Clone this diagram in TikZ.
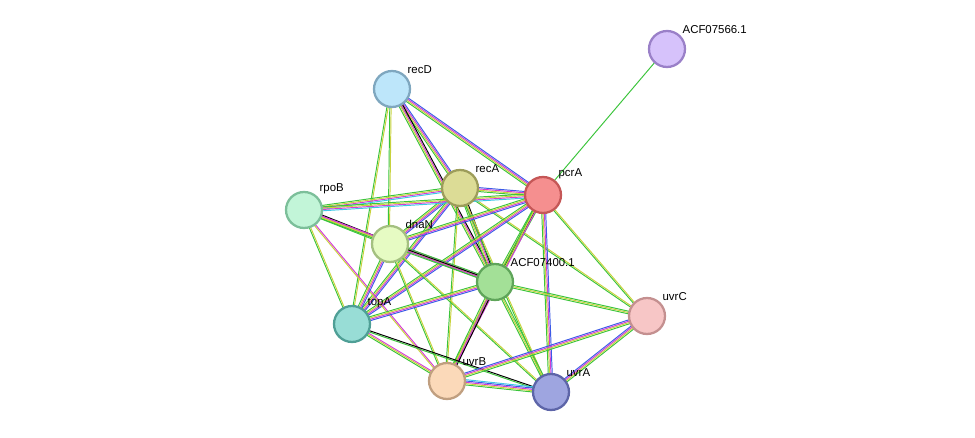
\documentclass[tikz,border=0pt]{standalone}
\usepackage{fontspec}
\setmainfont{Liberation Sans}
\usetikzlibrary{calc}
\definecolor{tmgreen}{HTML}{3BC43B}
\definecolor{coyellow}{HTML}{C8D23C}
\definecolor{expmag}{HTML}{D43CD4}
\definecolor{dbblue}{HTML}{3C5AE6}
\definecolor{hmcyan}{HTML}{3CC8E6}
\definecolor{f66}{HTML}{D6C2FB}\definecolor{d66}{HTML}{9A80C8}
\definecolor{frecD}{HTML}{BDE6FA}\definecolor{drecD}{HTML}{7FA7BF}
\definecolor{frecA}{HTML}{DCDC96}\definecolor{drecA}{HTML}{9D9D5A}
\definecolor{fpcrA}{HTML}{F58F8F}\definecolor{dpcrA}{HTML}{C55757}
\definecolor{frpoB}{HTML}{C2F5D8}\definecolor{drpoB}{HTML}{7CBF9A}
\definecolor{fdnaN}{HTML}{E6FBC3}\definecolor{ddnaN}{HTML}{A4C080}
\definecolor{f00}{HTML}{A3E097}\definecolor{d00}{HTML}{5FA55A}
\definecolor{fuvrC}{HTML}{F7C6C6}\definecolor{duvrC}{HTML}{C49090}
\definecolor{ftopA}{HTML}{98DDD6}\definecolor{dtopA}{HTML}{4F9F96}
\definecolor{fuvrB}{HTML}{FBD9B9}\definecolor{duvrB}{HTML}{C09F80}
\definecolor{fuvrA}{HTML}{9EA5E0}\definecolor{duvrA}{HTML}{5D65A8}
\tikzset{prot/.style={circle, draw, line width=1.3pt, minimum size=0.72cm, inner sep=0pt},
         lbl/.style={font=\fontsize{6.5}{7}\selectfont, inner sep=1pt, anchor=south west},
         strand/.style={line width=0.55pt}}
% one edge = several parallel coloured strands
\newcommand{\ppi}[3]{%
  \foreach \c [count=\i] in {#3}{%
    \draw[strand, \c] ($(#1)!{(\i-2.5)*0.75pt}!90:(#2)$) -- ($(#2)!{(\i-2.5)*0.75pt}!-90:(#1)$);}}
\begin{document}
\begin{tikzpicture}[x=0.02cm, y=-0.02cm]
        \useasboundingbox (0,0) rectangle (975,438);

        % Positions of the proteins
        \coordinate (acf66) at (667,49);
        \coordinate (recD) at (392,89);
        \coordinate (recA) at (460,188);
        \coordinate (pcrA) at (543,195);
        \coordinate (rpoB) at (304,210);
        \coordinate (dnaN) at (390,244);
        \coordinate (acf00) at (495,282);
        \coordinate (uvrC) at (647,316);
        \coordinate (topA) at (352,324);
        \coordinate (uvrB) at (447,381);
        \coordinate (uvrA) at (551,392);

        % Edges
        \ppi{pcrA}{acf66}{white,white,tmgreen}
        \ppi{recD}{recA}{tmgreen,coyellow,expmag,dbblue}
        \ppi{recD}{pcrA}{tmgreen,coyellow,expmag,dbblue}
        \ppi{recD}{dnaN}{tmgreen,coyellow}
        \ppi{recD}{acf00}{tmgreen,coyellow,expmag,black}
        \ppi{recD}{topA}{tmgreen,coyellow}
        \ppi{recA}{pcrA}{tmgreen,coyellow,expmag,dbblue}
        \ppi{recA}{rpoB}{tmgreen,coyellow,expmag,hmcyan}
        \ppi{recA}{dnaN}{tmgreen,coyellow,expmag,dbblue}
        \ppi{recA}{acf00}{tmgreen,coyellow,expmag,black}
        \ppi{recA}{topA}{tmgreen,coyellow,expmag,dbblue}
        \ppi{recA}{uvrB}{tmgreen,coyellow}
        \ppi{recA}{uvrA}{tmgreen,coyellow}
        \ppi{recA}{uvrC}{tmgreen,coyellow}
        \ppi{pcrA}{rpoB}{tmgreen,coyellow,expmag,hmcyan}
        \ppi{pcrA}{dnaN}{tmgreen,coyellow,expmag,dbblue}
        \ppi{pcrA}{acf00}{tmgreen,coyellow,black,tmgreen}
        \ppi{pcrA}{topA}{tmgreen,coyellow,expmag,dbblue}
        \ppi{pcrA}{uvrB}{tmgreen,coyellow,expmag}
        \ppi{pcrA}{uvrA}{tmgreen,coyellow,expmag,dbblue}
        \ppi{pcrA}{uvrC}{tmgreen,coyellow}
        \ppi{rpoB}{dnaN}{tmgreen,coyellow,expmag,black}
        \ppi{rpoB}{acf00}{tmgreen,coyellow,expmag}
        \ppi{rpoB}{topA}{tmgreen,coyellow}
        \ppi{rpoB}{uvrB}{coyellow,expmag}
        \ppi{dnaN}{acf00}{tmgreen,expmag,black,tmgreen}
        \ppi{dnaN}{topA}{tmgreen,coyellow,expmag,dbblue}
        \ppi{dnaN}{uvrB}{tmgreen,coyellow}
        \ppi{dnaN}{uvrA}{tmgreen,coyellow}
        \ppi{acf00}{topA}{tmgreen,coyellow,expmag,dbblue}
        \ppi{acf00}{uvrB}{tmgreen,coyellow,expmag,black}
        \ppi{acf00}{uvrA}{tmgreen,coyellow,tmgreen}
        \ppi{acf00}{uvrC}{tmgreen,coyellow,tmgreen}
        \ppi{topA}{uvrB}{tmgreen,coyellow,expmag}
        \ppi{topA}{uvrA}{tmgreen,black}
        \ppi{uvrB}{uvrA}{tmgreen,coyellow,expmag,dbblue,hmcyan}
        \ppi{uvrB}{uvrC}{tmgreen,coyellow,expmag,dbblue}
        \ppi{uvrA}{uvrC}{tmgreen,coyellow,expmag,dbblue}

        % Proteins
        \node[prot, fill=f66, draw=d66, label={[lbl]45:ACF07566.1}] (n66) at (acf66) {};
        \node[prot, fill=frecD, draw=drecD, label={[lbl]45:recD}] (nrecD) at (recD) {};
        \node[prot, fill=frecA, draw=drecA, label={[lbl]45:recA}] (nrecA) at (recA) {};
        \node[prot, fill=fpcrA, draw=dpcrA, label={[lbl]45:pcrA}] (npcrA) at (pcrA) {};
        \node[prot, fill=frpoB, draw=drpoB, label={[lbl]45:rpoB}] (nrpoB) at (rpoB) {};
        \node[prot, fill=fdnaN, draw=ddnaN, label={[lbl]45:dnaN}] (ndnaN) at (dnaN) {};
        \node[prot, fill=f00, draw=d00, label={[lbl]45:ACF07400.1}] (n00) at (acf00) {};
        \node[prot, fill=fuvrC, draw=duvrC, label={[lbl]45:uvrC}] (nuvrC) at (uvrC) {};
        \node[prot, fill=ftopA, draw=dtopA, label={[lbl]45:topA}] (ntopA) at (topA) {};
        \node[prot, fill=fuvrB, draw=duvrB, label={[lbl]45:uvrB}] (nuvrB) at (uvrB) {};
        \node[prot, fill=fuvrA, draw=duvrA, label={[lbl]45:uvrA}] (nuvrA) at (uvrA) {};

\end{tikzpicture}
\end{document}
